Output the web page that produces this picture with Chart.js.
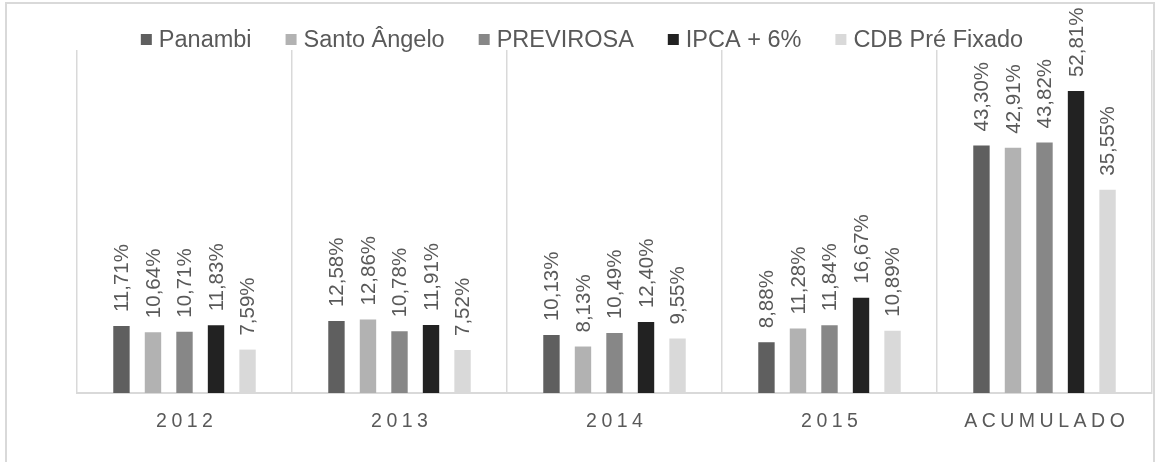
<!DOCTYPE html>
<html lang="pt">
<head>
    <meta charset="UTF-8">
    <title>Rentabilidade</title>
    <script src="https://cdn.jsdelivr.net/npm/chart.js"></script>
    <style>
        html, body { margin: 0; padding: 0; background: #fff; overflow: hidden; }
        #wrap { position: relative; width: 1160px; height: 462px; }
        #frame {
            position: absolute; left: 5px; top: 2px; width: 1150px; height: 520px;
            border: 2px solid #d9d9d9; box-sizing: border-box; pointer-events: none;
        }
    </style>
</head>
<body>
    <div id="wrap">
        <canvas id="chart" width="1160" height="462"></canvas>
        <div id="frame"></div>
    </div>
    <script>
        const categories = ['2012', '2013', '2014', '2015', 'ACUMULADO'];
        const seriesNames = ['Panambi', 'Santo Ângelo', 'PREVIROSA', 'IPCA + 6%', 'CDB Pré Fixado'];
        const panambi = [11.71, 12.58, 10.13, 8.88, 43.30];
        const santoAngelo = [10.64, 12.86, 8.13, 11.28, 42.91];
        const previrosa = [10.71, 10.78, 10.49, 11.84, 43.82];
        const ipca6 = [11.83, 11.91, 12.40, 16.67, 52.81];
        const cdbPre = [7.59, 7.52, 9.55, 10.89, 35.55];
        const colors = ['#5f5f5f', '#b2b2b2', '#878787', '#222222', '#d9d9d9'];

        const FONT = '"Liberation Sans", Arial, sans-serif';
        const TEXT = '#595959';

        const fmt = v => v.toFixed(2).replace('.', ',') + '%';

        // rotated value labels above each bar
        const valueLabels = {
            id: 'valueLabels',
            afterDatasetsDraw(chart) {
                const ctx = chart.ctx;
                ctx.save();
                ctx.font = '20.5px ' + FONT;
                ctx.fillStyle = TEXT;
                ctx.textAlign = 'left';
                ctx.textBaseline = 'middle';
                chart.data.datasets.forEach((ds, i) => {
                    chart.getDatasetMeta(i).data.forEach((bar, j) => {
                        ctx.save();
                        ctx.translate(bar.x + 1, bar.y - 14);
                        ctx.rotate(-Math.PI / 2);
                        ctx.fillText(fmt(ds.data[j]), 0, 0);
                        ctx.restore();
                    });
                });
                ctx.restore();
            }
        };

        // category labels with letter spacing
        const catLabels = {
            id: 'catLabels',
            afterDraw(chart) {
                const ctx = chart.ctx;
                const x = chart.scales.x;
                ctx.save();
                ctx.font = '19.5px ' + FONT;
                ctx.letterSpacing = '4.5px';
                ctx.fillStyle = TEXT;
                ctx.textAlign = 'center';
                ctx.textBaseline = 'alphabetic';
                categories.forEach((c, i) => {
                    ctx.fillText(c, x.getPixelForValue(i) + 2.25, 427);
                });
                ctx.restore();
            }
        };

        // legend drawn across the top
        const topLegend = {
            id: 'topLegend',
            afterDraw(chart) {
                const ctx = chart.ctx;
                ctx.save();
                ctx.font = '23.5px ' + FONT;
                ctx.textBaseline = 'alphabetic';
                ctx.textAlign = 'left';
                const box = 11, gap = 7, between = 34;
                const widths = seriesNames.map(n => ctx.measureText(n).width);
                const total = widths.reduce((a, w) => a + box + gap + w, 0) + between * (seriesNames.length - 1);
                let x = 582 - total / 2;
                seriesNames.forEach((n, i) => {
                    ctx.fillStyle = colors[i];
                    ctx.fillRect(x, 34, box, box);
                    ctx.fillStyle = TEXT;
                    ctx.fillText(n, x + box + gap, 47);
                    x += box + gap + widths[i] + between;
                });
                ctx.restore();
            }
        };

        const seriesValues = [panambi, santoAngelo, previrosa, ipca6, cdbPre];

        new Chart(document.getElementById('chart'), {
            type: 'bar',
            data: {
                labels: categories,
                datasets: seriesNames.map((name, i) => ({
                    label: name,
                    data: seriesValues[i],
                    backgroundColor: colors[i],
                    borderWidth: 0,
                    categoryPercentage: 0.733,
                    barPercentage: 0.52
                }))
            },
            options: {
                responsive: false,
                animation: false,
                layout: { padding: { left: 77, right: 8, top: 50, bottom: 69 } },
                plugins: {
                    legend: { display: false },
                    tooltip: { enabled: false },
                    title: { display: false }
                },
                scales: {
                    x: {
                        grid: { offset: true, color: '#d9d9d9', lineWidth: 1.5, drawTicks: false },
                        border: { color: '#d9d9d9', width: 2 },
                        ticks: { display: false }
                    },
                    y: {
                        display: false,
                        min: 0,
                        max: 60
                    }
                }
            },
            plugins: [valueLabels, catLabels, topLegend]
        });
    </script>
</body>
</html>
